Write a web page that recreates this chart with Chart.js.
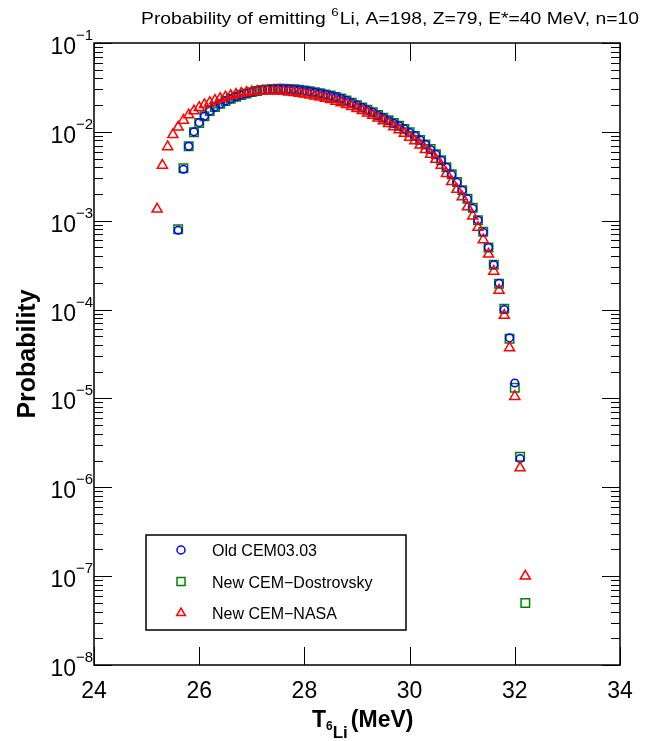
<!DOCTYPE html>
<html>
<head>
<meta charset="utf-8">
<script src="https://cdn.jsdelivr.net/npm/chart.js@4/dist/chart.umd.min.js"></script>
<style>
  html, body { margin: 0; padding: 0; background: #fff; }
  #wrap { width: 646px; height: 741px; position: relative; }
</style>
</head>
<body>
<div id="wrap"><canvas id="liChart" width="646" height="741"></canvas></div>
<script>
// kinetic energy of emitted 6Li (MeV) for each model
const oldEnergy = [25.6, 25.7, 25.8, 25.9, 26.0, 26.1, 26.2, 26.3, 26.4, 26.5, 26.6, 26.7, 26.8, 26.9,
    27.0, 27.1, 27.2, 27.3, 27.4, 27.5, 27.6, 27.7, 27.8, 27.9, 28.0, 28.1, 28.2, 28.3, 28.4, 28.5,
    28.6, 28.7, 28.8, 28.9, 29.0, 29.1, 29.2, 29.3, 29.4, 29.5, 29.6, 29.7, 29.8, 29.9, 30.0, 30.1,
    30.2, 30.3, 30.4, 30.5, 30.6, 30.7, 30.8, 30.9, 31.0, 31.1, 31.2, 31.3, 31.4, 31.5, 31.6, 31.7,
    31.8, 31.9, 32.0, 32.1];
const oldProb = [7.8e-4, 3.8e-3, 6.9e-3, 1.0e-2, 1.27e-2, 1.50e-2, 1.71e-2, 1.90e-2, 2.06e-2, 2.22e-2,
    2.35e-2, 2.48e-2, 2.59e-2, 2.70e-2, 2.79e-2, 2.88e-2, 2.94e-2, 3.00e-2, 3.03e-2, 3.06e-2,
    3.05e-2, 3.04e-2, 3.00e-2, 2.97e-2, 2.91e-2, 2.86e-2, 2.79e-2, 2.71e-2, 2.64e-2, 2.55e-2,
    2.47e-2, 2.37e-2, 2.25e-2, 2.12e-2, 2.00e-2, 1.88e-2, 1.76e-2, 1.66e-2, 1.54e-2, 1.44e-2,
    1.34e-2, 1.25e-2, 1.17e-2, 1.08e-2, 9.8e-3, 9.0e-3, 8.1e-3, 7.2e-3, 6.3e-3, 5.6e-3,
    4.8e-3, 4.0e-3, 3.3e-3, 2.7e-3, 2.2e-3, 1.76e-3, 1.38e-3, 1.01e-3, 7.4e-4, 5.0e-4,
    3.2e-4, 1.98e-4, 1.0e-4, 4.8e-5, 1.49e-5, 2.1e-6];

const dostEnergy = [25.6, 25.7, 25.8, 25.9, 26.0, 26.1, 26.2, 26.3, 26.4, 26.5, 26.6, 26.7, 26.8, 26.9,
    27.0, 27.1, 27.2, 27.3, 27.4, 27.5, 27.6, 27.7, 27.8, 27.9, 28.0, 28.1, 28.2, 28.3, 28.4, 28.5,
    28.6, 28.7, 28.8, 28.9, 29.0, 29.1, 29.2, 29.3, 29.4, 29.5, 29.6, 29.7, 29.8, 29.9, 30.0, 30.1,
    30.2, 30.3, 30.4, 30.5, 30.6, 30.7, 30.8, 30.9, 31.0, 31.1, 31.2, 31.3, 31.4, 31.5, 31.6, 31.7,
    31.8, 31.9, 32.0, 32.1, 32.2];
const dostProb = [8.0e-4, 3.9e-3, 6.9e-3, 9.9e-3, 1.26e-2, 1.50e-2, 1.72e-2, 1.90e-2, 2.07e-2, 2.22e-2,
    2.36e-2, 2.48e-2, 2.60e-2, 2.70e-2, 2.80e-2, 2.88e-2, 2.95e-2, 3.00e-2, 3.04e-2, 3.06e-2,
    3.06e-2, 3.04e-2, 3.01e-2, 2.97e-2, 2.92e-2, 2.86e-2, 2.79e-2, 2.72e-2, 2.64e-2, 2.56e-2,
    2.47e-2, 2.38e-2, 2.25e-2, 2.12e-2, 1.99e-2, 1.88e-2, 1.77e-2, 1.66e-2, 1.55e-2, 1.44e-2,
    1.35e-2, 1.26e-2, 1.17e-2, 1.08e-2, 9.9e-3, 9.0e-3, 8.1e-3, 7.2e-3, 6.4e-3, 5.6e-3,
    4.8e-3, 4.0e-3, 3.33e-3, 2.73e-3, 2.2e-3, 1.77e-3, 1.40e-3, 1.01e-3, 7.5e-4, 5.0e-4,
    3.2e-4, 1.95e-4, 1.02e-4, 4.7e-5, 1.32e-5, 2.2e-6, 5.0e-8];

const nasaEnergy = [25.2, 25.3, 25.4, 25.5, 25.6, 25.7, 25.8, 25.9, 26.0, 26.1, 26.2, 26.3, 26.4, 26.5,
    26.6, 26.7, 26.8, 26.9, 27.0, 27.1, 27.2, 27.3, 27.4, 27.5, 27.6, 27.7, 27.8, 27.9, 28.0, 28.1,
    28.2, 28.3, 28.4, 28.5, 28.6, 28.7, 28.8, 28.9, 29.0, 29.1, 29.2, 29.3, 29.4, 29.5, 29.6, 29.7,
    29.8, 29.9, 30.0, 30.1, 30.2, 30.3, 30.4, 30.5, 30.6, 30.7, 30.8, 30.9, 31.0, 31.1, 31.2, 31.3,
    31.4, 31.5, 31.6, 31.7, 31.8, 31.9, 32.0, 32.1, 32.2];
const nasaProb = [1.35e-3, 4.2e-3, 6.8e-3, 9.3e-3, 1.13e-2, 1.35e-2, 1.55e-2, 1.72e-2, 1.88e-2, 2.02e-2,
    2.14e-2, 2.26e-2, 2.37e-2, 2.47e-2, 2.56e-2, 2.64e-2, 2.71e-2, 2.77e-2, 2.82e-2, 2.86e-2,
    2.88e-2, 2.89e-2, 2.89e-2, 2.87e-2, 2.85e-2, 2.81e-2, 2.77e-2, 2.72e-2, 2.66e-2, 2.60e-2,
    2.53e-2, 2.46e-2, 2.38e-2, 2.30e-2, 2.21e-2, 2.12e-2, 2.03e-2, 1.93e-2, 1.83e-2, 1.73e-2,
    1.63e-2, 1.53e-2, 1.43e-2, 1.33e-2, 1.24e-2, 1.14e-2, 1.05e-2, 9.6e-3, 8.7e-3, 7.9e-3,
    7.1e-3, 6.3e-3, 5.6e-3, 4.9e-3, 4.2e-3, 3.4e-3, 2.75e-3, 2.25e-3, 1.85e-3, 1.43e-3,
    1.13e-3, 8.4e-4, 6.1e-4, 4.2e-4, 2.7e-4, 1.65e-4, 8.6e-5, 3.7e-5, 1.05e-5, 1.65e-6, 1.0e-7];

const seriesNames = ["Old CEM03.03", "New CEM\u2212Dostrovsky", "New CEM\u2212NASA"];
const xTicks = [24, 26, 28, 30, 32, 34];
const yExponents = [-1, -2, -3, -4, -5, -6, -7, -8];

const FONT = "'Liberation Sans', Arial, Helvetica, sans-serif";

function toPoints(xs, ys) {
    return xs.map((x, i) => ({ x: x, y: ys[i] }));
}

function marker(ctx, style, x, y, r, color) {
    ctx.save();
    ctx.strokeStyle = color;
    ctx.lineWidth = 1.5;
    ctx.beginPath();
    if (style === "circle") {
        ctx.arc(x, y, r, 0, Math.PI * 2);
    } else if (style === "rect") {
        ctx.rect(x - r, y - r, 2 * r, 2 * r);
    } else {
        ctx.moveTo(x, y - r);
        ctx.lineTo(x + r * 0.866, y + r * 0.5);
        ctx.lineTo(x - r * 0.866, y + r * 0.5);
        ctx.closePath();
    }
    ctx.stroke();
    ctx.restore();
}

// frame, inward ticks, log labels, titles and the boxed legend
const frameAndText = {
    id: "frameAndText",
    afterDraw(chart) {
        const ctx = chart.ctx;
        const a = chart.chartArea;
        const xs = chart.scales.x;
        const ys = chart.scales.y;
        ctx.save();
        ctx.strokeStyle = "#000";
        ctx.fillStyle = "#000";

        // x ticks (top and bottom)
        ctx.lineWidth = 1;
        xTicks.forEach(v => {
            const px = Math.round(xs.getPixelForValue(v)) + 0.5;
            ctx.beginPath();
            ctx.moveTo(px, a.bottom); ctx.lineTo(px, a.bottom - 18);
            ctx.moveTo(px, a.top); ctx.lineTo(px, a.top + 18);
            ctx.stroke();
        });
        // y ticks, decades and minor
        for (let e = -8; e <= -1; e++) {
            for (let m = 1; m <= 9; m++) {
                const v = m * Math.pow(10, e);
                if (v > 0.1 + 1e-12) break;
                const py = Math.round(ys.getPixelForValue(v)) + 0.5;
                const len = m === 1 ? 18 : 9;
                ctx.beginPath();
                ctx.moveTo(a.left, py); ctx.lineTo(a.left + len, py);
                ctx.moveTo(a.right, py); ctx.lineTo(a.right - len, py);
                ctx.stroke();
            }
        }
        // frame
        ctx.lineWidth = 1.5;
        ctx.strokeRect(a.left, a.top, a.right - a.left, a.bottom - a.top);

        // x tick labels
        ctx.font = "23px " + FONT;
        ctx.textAlign = "center";
        ctx.textBaseline = "alphabetic";
        xTicks.forEach(v => {
            ctx.fillText(String(v), xs.getPixelForValue(v), a.bottom + 33);
        });

        // y tick labels as 10^e
        yExponents.forEach(e => {
            const py = ys.getPixelForValue(Math.pow(10, e));
            ctx.textAlign = "right";
            ctx.font = "23px " + FONT;
            ctx.fillText("10", 76, py + 11);
            ctx.textAlign = "left";
            ctx.font = "15px " + FONT;
            ctx.fillText("\u2212" + Math.abs(e), 76, py - 3);
        });

        // title with superscript, stretched to span 141..639
        const t1 = "Probability of emitting ";
        const t2 = "Li, A=198, Z=79, E*=40 MeV, n=10";
        ctx.textAlign = "left";
        ctx.font = "16px " + FONT;
        const w1 = ctx.measureText(t1).width;
        const w3 = ctx.measureText(t2).width;
        ctx.font = "11px " + FONT;
        const w2 = ctx.measureText("6").width + 1;
        const sx = (639 - 141) / (w1 + w2 + w3);
        ctx.save();
        ctx.translate(141, 24);
        ctx.scale(sx, 1.05);
        ctx.font = "16px " + FONT;
        ctx.fillText(t1, 0, 0);
        ctx.font = "11px " + FONT;
        ctx.fillText("6", w1, -8);
        ctx.font = "16px " + FONT;
        ctx.fillText(t2, w1 + w2, 0);
        ctx.restore();

        // x axis title: T with nested subscripts
        ctx.font = "bold 23px " + FONT;
        let ax = 312;
        ctx.fillText("T", ax, 727);
        ax += ctx.measureText("T").width;
        ctx.font = "bold 12px " + FONT;
        ctx.fillText("6", ax, 730);
        ax += ctx.measureText("6").width;
        ctx.font = "bold 17px " + FONT;
        ctx.fillText("Li", ax, 738);
        ax += ctx.measureText("Li").width + 3;
        ctx.font = "bold 23px " + FONT;
        ctx.fillText("(MeV)", ax, 727);

        // y axis title
        ctx.save();
        ctx.translate(35, 354);
        ctx.rotate(-Math.PI / 2);
        ctx.textAlign = "center";
        ctx.font = "bold 25px " + FONT;
        ctx.fillText("Probability", 0, 0);
        ctx.restore();

        // legend
        ctx.lineWidth = 1.5;
        ctx.strokeRect(146, 535, 260, 95);
        const styles = ["circle", "rect", "triangle"];
        const colors = ["#0000ff", "#008000", "#ff0000"];
        const sizes = [4, 4, 5];
        ctx.font = "16px " + FONT;
        ctx.textAlign = "left";
        seriesNames.forEach((name, i) => {
            const ry = 550 + i * 31.5;
            marker(ctx, styles[i], 181, ry, sizes[i], colors[i]);
            ctx.fillStyle = "#000";
            ctx.fillText(name, 212, ry + 6);
        });
        ctx.restore();
    }
};

const ctx = document.getElementById("liChart").getContext("2d");
new Chart(ctx, {
    type: "scatter",
    data: {
        datasets: [
            {
                label: seriesNames[0],
                data: toPoints(oldEnergy, oldProb),
                pointStyle: "circle",
                pointRadius: 3.8,
                borderColor: "#0000ff",
                backgroundColor: "rgba(0,0,0,0)",
                pointBorderWidth: 1.5,
                order: 1
            },
            {
                label: seriesNames[1],
                data: toPoints(dostEnergy, dostProb),
                pointStyle: "rect",
                pointRadius: 6,
                borderColor: "#008000",
                backgroundColor: "rgba(0,0,0,0)",
                pointBorderWidth: 1.5,
                order: 2
            },
            {
                label: seriesNames[2],
                data: toPoints(nasaEnergy, nasaProb),
                pointStyle: "triangle",
                pointRadius: 5.8,
                borderColor: "#ff0000",
                backgroundColor: "rgba(0,0,0,0)",
                pointBorderWidth: 1.5,
                order: 0
            }
        ]
    },
    options: {
        responsive: false,
        animation: false,
        layout: { padding: { left: 94, right: 26, top: 43, bottom: 76 } },
        plugins: {
            legend: { display: false },
            tooltip: { enabled: false },
            title: { display: false }
        },
        scales: {
            x: { type: "linear", min: 24, max: 34, display: false },
            y: { type: "logarithmic", min: 1e-8, max: 1e-1, display: false }
        }
    },
    plugins: [frameAndText]
});
</script>
</body>
</html>
